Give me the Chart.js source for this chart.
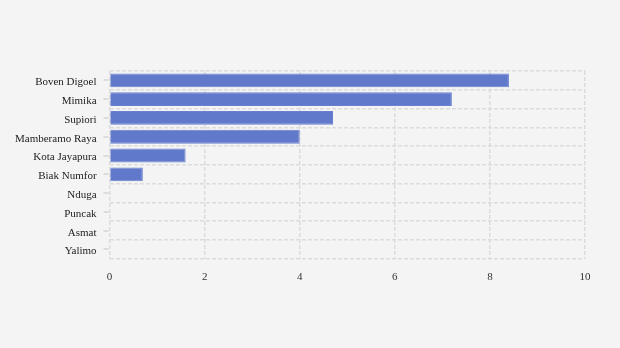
<!DOCTYPE html>
<html>
<head>
<meta charset="utf-8">
<script src="https://cdn.jsdelivr.net/npm/chart.js@4"></script>
<style>
  html, body { margin: 0; padding: 0; background: #f4f4f4; }
  #wrap { width: 620px; height: 348px; }
</style>
</head>
<body>
<div id="wrap"><canvas id="chart"></canvas></div>
<script>
const kabupaten = ['Boven Digoel', 'Mimika', 'Supiori', 'Mamberamo Raya', 'Kota Jayapura',
    'Biak Numfor', 'Nduga', 'Puncak', 'Asmat', 'Yalimo'];
const nilai = [8.4, 7.2, 4.7, 4.0, 1.6, 0.7, 0, 0, 0, 0];
const xTicks = [0, 2, 4, 6, 8, 10];

const gridColor = '#dcdcdc';
const labelFont = { family: '"Liberation Serif", "Times New Roman", serif', size: 11 };

// small tick marks next to each category label
const categoryTicks = {
    id: 'categoryTicks',
    afterDraw(chart) {
        const y = chart.scales.y;
        const ctx = chart.ctx;
        ctx.save();
        ctx.strokeStyle = gridColor;
        ctx.lineWidth = 2;
        y.ticks.forEach((t, i) => {
            const py = Math.round(y.getPixelForTick(i));
            ctx.beginPath();
            ctx.moveTo(y.right - 6, py);
            ctx.lineTo(y.right - 1, py);
            ctx.stroke();
        });
        ctx.restore();
    }
};

new Chart(document.getElementById('chart').getContext('2d'), {
    type: 'bar',
    data: {
        labels: kabupaten,
        datasets: [{
            data: nilai,
            backgroundColor: '#6179cb',
            borderColor: '#6a80cf',
            borderWidth: 1,
            barPercentage: 0.92
        }]
    },
    options: {
        indexAxis: 'y',
        responsive: true,
        maintainAspectRatio: false,
        animation: false,
        layout: {
            padding: { top: 71, right: 35, bottom: 52, left: 2 }
        },
        plugins: {
            legend: { display: false },
            tooltip: { enabled: false }
        },
        scales: {
            x: {
                min: 0,
                max: 10,
                afterBuildTicks(axis) {
                    axis.ticks = xTicks.map(v => ({ value: v }));
                },
                border: { display: false, dash: [4, 2] },
                grid: {
                    color: gridColor,
                    lineWidth: 1.5,
                    drawTicks: false
                },
                ticks: {
                    padding: 12,
                    color: '#333',
                    font: labelFont
                }
            },
            y: {
                border: { display: false, dash: [4, 2] },
                grid: {
                    color: gridColor,
                    lineWidth: 1.5,
                    offset: true,
                    drawTicks: false
                },
                ticks: {
                    padding: 13,
                    labelOffset: 2,
                    color: '#222',
                    font: labelFont
                }
            }
        }
    },
    plugins: [categoryTicks]
});
</script>
</body>
</html>
